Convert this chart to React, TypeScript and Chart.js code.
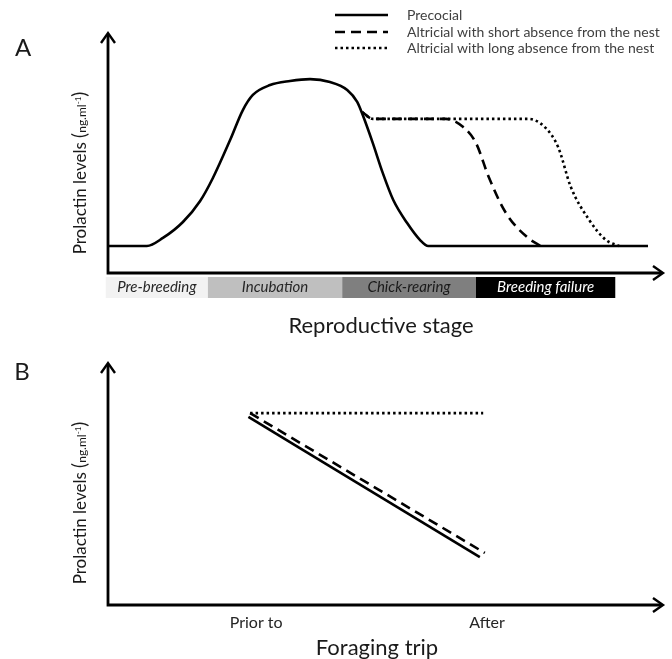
import React, { useEffect, useRef } from "react";
import { Chart, registerables } from "chart.js";
Chart.register(...registerables);

const FONT = "Lato, 'Open Sans', sans-serif";

// ---- Panel A data (arbitrary units: x 0-100 along reproductive stage, y 0-100 prolactin) ----
const seriesNames = [
  "Precocial",
  "Altricial with short absence from the nest",
  "Altricial with long absence from the nest",
];
const precocialX = [0, 7.0, 9.9, 13.5, 16.6, 18.9, 22, 24.3, 26.1, 29.2, 32.8, 36.4, 40, 43.1, 44.9, 45.9, 47.7, 49.5, 51.4, 53.9, 56.2, 57.7, 97.3];
const precocialY = [11.25, 11.25, 14.6, 21.25, 30, 39.6, 55.4, 67.9, 74.2, 78.3, 80, 80.8, 79.6, 76.3, 71.3, 65.8, 54.2, 41.7, 30.4, 20.8, 13.8, 11.25, 11.25];
const shortAbsX = [45.8, 47.7, 60.9, 64, 66.3, 68.6, 71.7, 75.7, 78];
const shortAbsY = [67.1, 64.2, 64.2, 60.8, 54.2, 40, 25, 14.6, 11.25];
const longAbsX = [45.8, 47.7, 75.7, 78.7, 81.1, 83.4, 86.7, 89.7, 92.1];
const longAbsY = [67.1, 64.2, 64.2, 60.8, 52.5, 35.8, 22.1, 13.8, 11.25];

const stageNames = ["Pre-breeding", "Incubation", "Chick-rearing", "Breeding failure"];
const stageBounds = [-0.4, 18, 42.2, 66.3, 91.4];
const stageFill = ["#f2f2f2", "#bfbfbf", "#7f7f7f", "#000000"];
const stageText = ["#262626", "#262626", "#1a1a1a", "#ffffff"];

// ---- Panel B data ----
const tripLabels = ["Prior to", "After"];
const tripLabelX = [26.7, 68.3];
const precocialBX = [25.3, 67.0];
const precocialBY = [77.7, 19.8];
const shortAbsBX = [25.6, 67.9];
const shortAbsBY = [79.3, 21.5];
const longAbsBX = [25.6, 67.6];
const longAbsBY = [79.3, 79.3];

const dashes = [[], [10, 6], [2.5, 3]];

const zip = (xs: number[], ys: number[]) => xs.map((x, i) => ({ x, y: ys[i] }));

function drawAxes(ctx: CanvasRenderingContext2D, a: any) {
  ctx.save();
  ctx.strokeStyle = "#000";
  ctx.lineWidth = 2.8;
  ctx.lineJoin = "miter";
  ctx.beginPath();
  ctx.moveTo(a.left, a.top + 1);
  ctx.lineTo(a.left, a.bottom);
  ctx.lineTo(a.right - 1, a.bottom);
  ctx.stroke();
  ctx.lineWidth = 2.4;
  ctx.beginPath();
  ctx.moveTo(a.left - 7, a.top + 10);
  ctx.lineTo(a.left, a.top);
  ctx.lineTo(a.left + 7, a.top + 10);
  ctx.stroke();
  ctx.beginPath();
  ctx.moveTo(a.right - 10, a.bottom - 7);
  ctx.lineTo(a.right, a.bottom);
  ctx.lineTo(a.right - 10, a.bottom + 7);
  ctx.stroke();
  ctx.restore();
}

function drawYLabel(ctx: CanvasRenderingContext2D, cx: number, cy: number) {
  const parts = [
    { t: "Prolactin levels ", s: 17, dy: 0 },
    { t: "(", s: 19, dy: 0 },
    { t: "ng.ml", s: 12, dy: 0 },
    { t: "-1", s: 8, dy: -5 },
    { t: ")", s: 19, dy: 0 },
  ];
  ctx.save();
  let total = 0;
  const widths = parts.map((p) => {
    ctx.font = `${p.s}px ${FONT}`;
    const w = ctx.measureText(p.t).width;
    total += w;
    return w;
  });
  ctx.translate(cx, cy);
  ctx.rotate(-Math.PI / 2);
  ctx.fillStyle = "#1a1a1a";
  ctx.textBaseline = "alphabetic";
  ctx.textAlign = "left";
  let x = -total / 2;
  parts.forEach((p, i) => {
    ctx.font = `${p.s}px ${FONT}`;
    ctx.fillText(p.t, x, 6 + p.dy);
    x += widths[i];
  });
  ctx.restore();
}

function text(ctx: CanvasRenderingContext2D, t: string, x: number, y: number, font: string, color: string, align: CanvasTextAlign = "center") {
  ctx.save();
  ctx.font = font;
  ctx.fillStyle = color;
  ctx.textAlign = align;
  ctx.textBaseline = "middle";
  ctx.fillText(t, x, y);
  ctx.restore();
}

const decorA = {
  id: "decorA",
  afterDraw(chart: any) {
    const ctx = chart.ctx as CanvasRenderingContext2D;
    const a = chart.chartArea;
    const xs = chart.scales.x;
    drawAxes(ctx, a);
    // stage bar
    stageNames.forEach((name, i) => {
      const x0 = xs.getPixelForValue(stageBounds[i]);
      const x1 = xs.getPixelForValue(stageBounds[i + 1]);
      ctx.fillStyle = stageFill[i];
      ctx.fillRect(x0, a.bottom + 4, x1 - x0, 21);
      text(ctx, name, (x0 + x1) / 2, a.bottom + 14.5, `italic 15px ${FONT}`, stageText[i]);
    });
    text(ctx, "Reproductive stage", 381, 326, `22px ${FONT}`, "#1a1a1a");
    text(ctx, "A", 23, 48, `24px ${FONT}`, "#1a1a1a");
    drawYLabel(ctx, 80, 173);
    // legend
    const ly = [15, 32, 48];
    seriesNames.forEach((n, i) => {
      ctx.save();
      ctx.strokeStyle = "#000";
      ctx.lineWidth = 2.5;
      ctx.setLineDash(dashes[i]);
      ctx.beginPath();
      ctx.moveTo(335, ly[i]);
      ctx.lineTo(388, ly[i]);
      ctx.stroke();
      ctx.restore();
      text(ctx, n, 407, ly[i], `14px ${FONT}`, "#404040", "left");
    });
  },
};

const decorB = {
  id: "decorB",
  afterDraw(chart: any) {
    const ctx = chart.ctx as CanvasRenderingContext2D;
    const a = chart.chartArea;
    const xs = chart.scales.x;
    drawAxes(ctx, a);
    tripLabels.forEach((l, i) => {
      text(ctx, l, xs.getPixelForValue(tripLabelX[i]), 283, `16px ${FONT}`, "#262626");
    });
    text(ctx, "Foraging trip", 377, 308, `22px ${FONT}`, "#1a1a1a");
    text(ctx, "B", 22, 32, `24px ${FONT}`, "#1a1a1a");
    drawYLabel(ctx, 80, 163);
  },
};

function makeDataset(label: string, data: any[], i: number) {
  return {
    label,
    data,
    borderColor: "#000",
    backgroundColor: "#000",
    borderWidth: 2.6,
    borderDash: dashes[i],
    borderCapStyle: "butt" as const,
    cubicInterpolationMode: "monotone" as const,
    fill: false,
    pointRadius: 0,
  };
}

function baseOptions(padding: any) {
  return {
    responsive: false,
    animation: false as const,
    layout: { padding },
    scales: {
      x: { type: "linear" as const, min: 0, max: 100, display: false },
      y: { type: "linear" as const, min: 0, max: 100, display: false },
    },
    plugins: { legend: { display: false }, tooltip: { enabled: false } },
    elements: { point: { radius: 0 } },
  };
}

export default function App() {
  const refA = useRef<HTMLCanvasElement>(null);
  const refB = useRef<HTMLCanvasElement>(null);

  useEffect(() => {
    const chartA = new Chart(refA.current!, {
      type: "line",
      data: {
        datasets: [
          makeDataset(seriesNames[0], zip(precocialX, precocialY), 0),
          makeDataset(seriesNames[1], zip(shortAbsX, shortAbsY), 1),
          makeDataset(seriesNames[2], zip(longAbsX, longAbsY), 2),
        ],
      },
      options: baseOptions({ left: 108, top: 33, right: 9, bottom: 67 }) as any,
      plugins: [decorA],
    });
    const chartB = new Chart(refB.current!, {
      type: "line",
      data: {
        datasets: [
          makeDataset(seriesNames[0], zip(precocialBX, precocialBY), 0),
          makeDataset(seriesNames[1], zip(shortAbsBX, shortAbsBY), 1),
          makeDataset(seriesNames[2], zip(longAbsBX, longAbsBY), 2),
        ],
      },
      options: baseOptions({ left: 108, top: 23, right: 9, bottom: 54 }) as any,
      plugins: [decorB],
    });
    return () => {
      chartA.destroy();
      chartB.destroy();
    };
  }, []);

  return (
    <div style={{ position: "absolute", left: 0, top: 0, width: 672, height: 659, background: "#fff" }}>
      <canvas ref={refA} width={672} height={340} style={{ position: "absolute", left: 0, top: 0 }} />
      <canvas ref={refB} width={672} height={319} style={{ position: "absolute", left: 0, top: 340 }} />
    </div>
  );
}
